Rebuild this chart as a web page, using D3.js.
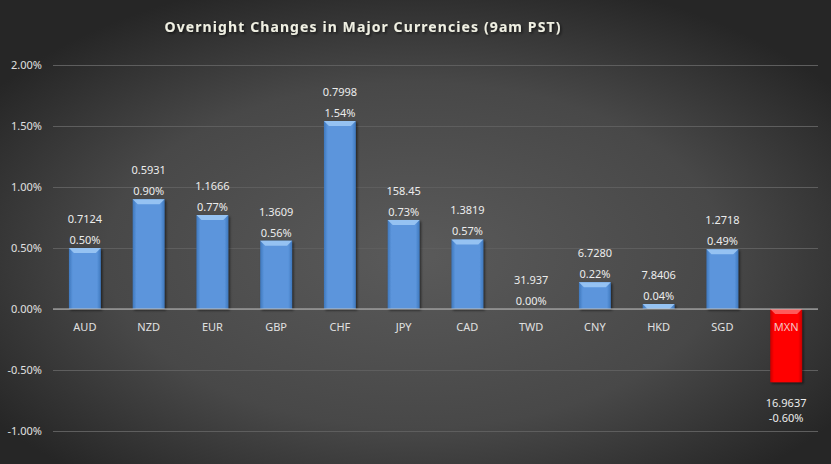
<!DOCTYPE html>
<html>
<head>
<meta charset="utf-8">
<script src="https://cdn.jsdelivr.net/npm/d3@7"></script>
<style>
  html, body { margin: 0; padding: 0; background: #333; }
  svg { display: block; }
</style>
</head>
<body>
<script>
// data
const currencies = ['AUD', 'NZD', 'EUR', 'GBP', 'CHF', 'JPY', 'CAD', 'TWD', 'CNY', 'HKD', 'SGD', 'MXN'];
const changes = [0.50, 0.90, 0.77, 0.56, 1.54, 0.73, 0.57, 0.00, 0.22, 0.04, 0.49, -0.60];
const rates = ['0.7124', '0.5931', '1.1666', '1.3609', '0.7998', '158.45', '1.3819', '31.937', '6.7280', '7.8406', '1.2718', '16.9637'];
const yTicks = [-1.0, -0.5, 0.0, 0.5, 1.0, 1.5, 2.0];

const width = 831;
const height = 464;
const plotLeft = 53, plotRight = 818, plotTop = 65, plotBottom = 431;
const font = '"Noto Sans", "Open Sans", sans-serif';

// plain hyphen for negatives, like the original
const pct = (v) => v.toFixed(2) + '%';

const svg = d3.select('body')
              .append('svg')
                .attr('width', width)
                .attr('height', height);

const defs = svg.append('defs');

// dark radial background
const bg = defs.append('radialGradient')
               .attr('id', 'bg')
               .attr('cx', '0.5').attr('cy', '0.55').attr('r', '0.62');
bg.append('stop').attr('offset', '0%').attr('stop-color', '#5a5a5a');
bg.append('stop').attr('offset', '60%').attr('stop-color', '#484848');
bg.append('stop').attr('offset', '100%').attr('stop-color', '#262626');

function barGradient(id, edge, mid) {
    const g = defs.append('linearGradient').attr('id', id)
                  .attr('x1', '0').attr('x2', '1').attr('y1', '0').attr('y2', '0');
    g.append('stop').attr('offset', '0%').attr('stop-color', edge);
    g.append('stop').attr('offset', '12%').attr('stop-color', mid);
    g.append('stop').attr('offset', '88%').attr('stop-color', mid);
    g.append('stop').attr('offset', '100%').attr('stop-color', edge);
}
barGradient('blueBar', '#3f78bd', '#5b95dc');
barGradient('redBar', '#c80000', '#ff0000');

const shadow = defs.append('filter').attr('id', 'shadow')
                   .attr('x', '-20%').attr('y', '-20%').attr('width', '140%').attr('height', '140%');
shadow.append('feDropShadow').attr('dx', 1.5).attr('dy', 1.5).attr('stdDeviation', 1.2)
      .attr('flood-color', '#000').attr('flood-opacity', 0.55);

svg.append('rect')
     .attr('width', width)
     .attr('height', height)
     .attr('fill', 'url(#bg)');

const xScale = d3.scaleBand()
                 .domain(currencies)
                 .range([plotLeft, plotRight])
                 .paddingInner(0.5)
                 .paddingOuter(0.25);

const yScale = d3.scaleLinear()
                 .domain([-1.0, 2.0])
                 .range([plotBottom, plotTop]);

// chart title
svg.append('text')
     .attr('x', 363)
     .attr('y', 32)
     .attr('text-anchor', 'middle')
     .attr('font-family', font)
     .attr('font-weight', 'bold')
     .attr('font-size', 14)
     .attr('letter-spacing', 1.1)
     .attr('fill', '#efefe2')
     .attr('filter', 'url(#shadow)')
     .text('Overnight Changes in Major Currencies (9am PST)');

// gridlines and y labels
const yAxis = svg.append('g')
                 .attr('transform', `translate(${plotLeft}, 0)`)
                 .call(d3.axisLeft(yScale)
                         .tickValues(yTicks)
                         .tickSize(-(plotRight - plotLeft))
                         .tickPadding(11)
                         .tickFormat(pct));
yAxis.select('.domain').remove();
yAxis.selectAll('.tick line')
     .attr('stroke', '#5e5e5e')
     .attr('stroke-width', 1);
yAxis.selectAll('.tick text')
     .attr('font-family', font)
     .attr('font-size', 11)
     .attr('fill', '#e0e0e0');

// the bars
const barData = currencies.map((c, i) => ({name: c, value: changes[i], rate: rates[i]}));

const bars = svg.append('g').selectAll('g')
                .data(barData)
                .enter()
                  .append('g')
                  .attr('filter', 'url(#shadow)');

bars.append('rect')
      .attr('x', (d) => xScale(d.name))
      .attr('y', (d) => yScale(Math.max(0, d.value)))
      .attr('width', xScale.bandwidth())
      .attr('height', (d) => Math.abs(yScale(d.value) - yScale(0)))
      .attr('fill', (d) => d.value < 0 ? 'url(#redBar)' : 'url(#blueBar)');

// little bevel on top of each bar
bars.filter((d) => d.value !== 0)
    .append('path')
      .attr('d', (d) => {
          const x0 = xScale(d.name);
          const x1 = x0 + xScale.bandwidth();
          const y0 = yScale(Math.max(0, d.value));
          const h = Math.min(5, Math.abs(yScale(d.value) - yScale(0)));
          return `M${x0},${y0} L${x1},${y0} L${x1 - 5},${y0 + h} L${x0 + 5},${y0 + h} Z`;
      })
      .attr('fill', (d) => d.value < 0 ? '#ff5a5a' : '#95c2f2');

// zero line
svg.append('line')
     .attr('x1', plotLeft)
     .attr('x2', plotRight)
     .attr('y1', yScale(0))
     .attr('y2', yScale(0))
     .attr('stroke', '#bfbfbf')
     .attr('stroke-width', 1);

// category labels
svg.append('g').selectAll('text')
   .data(barData)
   .enter()
     .append('text')
       .attr('x', (d) => xScale(d.name) + xScale.bandwidth() / 2)
       .attr('y', yScale(0) + 22)
       .attr('text-anchor', 'middle')
       .attr('font-family', font)
       .attr('font-size', 11)
       .attr('fill', (d) => d.value < 0 ? '#f4c4c4' : '#e0e0e0')
       .text((d) => d.name);

// value labels: rate on top line, change below
const labels = svg.append('g').selectAll('g')
                  .data(barData)
                  .enter()
                    .append('g')
                    .attr('font-family', font)
                    .attr('font-size', 11)
                    .attr('fill', '#ececec')
                    .attr('text-anchor', 'middle');

labels.append('text')
        .attr('x', (d) => xScale(d.name) + xScale.bandwidth() / 2)
        .attr('y', (d) => d.value < 0 ? yScale(d.value) + 25 : yScale(d.value) - 25)
        .text((d) => d.rate);

labels.append('text')
        .attr('x', (d) => xScale(d.name) + xScale.bandwidth() / 2)
        .attr('y', (d) => d.value < 0 ? yScale(d.value) + 40 : yScale(d.value) - 4)
        .text((d) => pct(d.value));
</script>
</body>
</html>
